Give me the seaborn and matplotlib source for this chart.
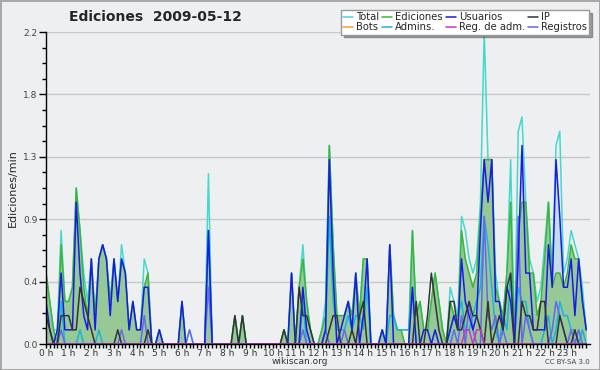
import numpy as np
import matplotlib
matplotlib.use("Agg")
import matplotlib.pyplot as plt
import seaborn as sbn

# tranches de 10 minutes sur la journee (144 points)
heures = np.arange(144) / 6
etiquettes_x = [f"{h} h" for h in range(24)]

# ============== DONNEES (editions / min) ==============
total = [
    0.5, 0.3, 0.1, 0.1, 0.8, 0.3,
    0.3, 0.4, 1.1, 0.8, 0.5, 0.3,
    0.6, 0.2, 0.6, 0.7, 0.6, 0.3,
    0.6, 0.3, 0.7, 0.5, 0.1, 0.3,
    0.1, 0.1, 0.6, 0.5, 0.0, 0.0,
    0.1, 0.0, 0.0, 0.0, 0.0, 0.0,
    0.3, 0.0, 0.1, 0.0, 0.0, 0.0,
    0.0, 1.2, 0.0, 0.0, 0.0, 0.0,
    0.0, 0.0, 0.2, 0.0, 0.2, 0.0,
    0.0, 0.0, 0.0, 0.0, 0.0, 0.0,
    0.0, 0.0, 0.0, 0.1, 0.0, 0.5,
    0.0, 0.4, 0.7, 0.3, 0.1, 0.0,
    0.0, 0.1, 0.3, 1.4, 0.7, 0.2,
    0.2, 0.2, 0.3, 0.2, 0.5, 0.2,
    0.6, 0.6, 0.0, 0.0, 0.0, 0.1,
    0.0, 0.7, 0.2, 0.1, 0.1, 0.1,
    0.1, 0.8, 0.2, 0.3, 0.1, 0.1,
    0.3, 0.5, 0.3, 0.1, 0.0, 0.4,
    0.3, 0.2, 0.9, 0.8, 0.6, 0.5,
    0.6, 1.0, 2.2, 1.3, 1.3, 0.5,
    0.3, 0.2, 0.5, 1.3, 0.0, 1.5,
    1.6, 1.0, 0.6, 0.5, 0.3, 0.4,
    0.7, 1.0, 0.5, 1.4, 1.5, 0.5,
    0.6, 0.8, 0.7, 0.6, 0.4, 0.1,
]
ediciones = [
    0.5, 0.3, 0.1, 0.0, 0.7, 0.3,
    0.3, 0.4, 1.1, 0.8, 0.4, 0.2,
    0.6, 0.2, 0.6, 0.7, 0.6, 0.3,
    0.6, 0.3, 0.6, 0.5, 0.1, 0.3,
    0.1, 0.1, 0.4, 0.5, 0.0, 0.0,
    0.1, 0.0, 0.0, 0.0, 0.0, 0.0,
    0.3, 0.0, 0.0, 0.0, 0.0, 0.0,
    0.0, 0.8, 0.0, 0.0, 0.0, 0.0,
    0.0, 0.0, 0.2, 0.0, 0.2, 0.0,
    0.0, 0.0, 0.0, 0.0, 0.0, 0.0,
    0.0, 0.0, 0.0, 0.1, 0.0, 0.5,
    0.0, 0.4, 0.6, 0.3, 0.1, 0.0,
    0.0, 0.1, 0.2, 1.4, 0.7, 0.2,
    0.2, 0.2, 0.3, 0.2, 0.5, 0.2,
    0.6, 0.6, 0.0, 0.0, 0.0, 0.1,
    0.0, 0.7, 0.2, 0.1, 0.1, 0.0,
    0.0, 0.8, 0.2, 0.3, 0.1, 0.1,
    0.3, 0.5, 0.3, 0.1, 0.0, 0.3,
    0.2, 0.1, 0.8, 0.6, 0.5, 0.4,
    0.5, 0.9, 1.3, 1.3, 1.3, 0.4,
    0.3, 0.2, 0.5, 1.0, 0.0, 0.8,
    1.0, 1.0, 0.5, 0.5, 0.2, 0.3,
    0.6, 1.0, 0.4, 0.5, 0.5, 0.4,
    0.5, 0.7, 0.6, 0.6, 0.3, 0.1,
]
usuarios = [
    0.3, 0.1, 0.0, 0.1, 0.5, 0.1,
    0.1, 0.1, 1.0, 0.5, 0.2, 0.1,
    0.6, 0.1, 0.6, 0.7, 0.6, 0.2,
    0.6, 0.3, 0.6, 0.5, 0.1, 0.3,
    0.1, 0.1, 0.4, 0.4, 0.0, 0.0,
    0.1, 0.0, 0.0, 0.0, 0.0, 0.0,
    0.3, 0.0, 0.0, 0.0, 0.0, 0.0,
    0.0, 0.8, 0.0, 0.0, 0.0, 0.0,
    0.0, 0.0, 0.0, 0.0, 0.0, 0.0,
    0.0, 0.0, 0.0, 0.0, 0.0, 0.0,
    0.0, 0.0, 0.0, 0.0, 0.0, 0.5,
    0.0, 0.0, 0.4, 0.1, 0.0, 0.0,
    0.0, 0.0, 0.1, 1.3, 0.5, 0.0,
    0.1, 0.2, 0.3, 0.1, 0.5, 0.0,
    0.2, 0.6, 0.0, 0.0, 0.0, 0.1,
    0.0, 0.7, 0.0, 0.0, 0.0, 0.0,
    0.0, 0.4, 0.0, 0.0, 0.1, 0.1,
    0.0, 0.1, 0.0, 0.0, 0.0, 0.1,
    0.2, 0.1, 0.6, 0.3, 0.2, 0.1,
    0.2, 0.8, 1.3, 1.0, 1.3, 0.3,
    0.3, 0.1, 0.4, 0.3, 0.0, 0.6,
    1.4, 0.5, 0.5, 0.1, 0.1, 0.1,
    0.1, 0.7, 0.4, 1.3, 0.9, 0.4,
    0.4, 0.6, 0.2, 0.6, 0.3, 0.1,
]
ip = [
    0.2, 0.1, 0.0, 0.0, 0.2, 0.2,
    0.2, 0.1, 0.1, 0.4, 0.3, 0.2,
    0.1, 0.0, 0.0, 0.0, 0.0, 0.0,
    0.0, 0.1, 0.0, 0.0, 0.0, 0.0,
    0.0, 0.0, 0.0, 0.1, 0.0, 0.0,
    0.0, 0.0, 0.0, 0.0, 0.0, 0.0,
    0.0, 0.0, 0.0, 0.0, 0.0, 0.0,
    0.0, 0.0, 0.0, 0.0, 0.0, 0.0,
    0.0, 0.0, 0.2, 0.0, 0.2, 0.0,
    0.0, 0.0, 0.0, 0.0, 0.0, 0.0,
    0.0, 0.0, 0.0, 0.1, 0.0, 0.0,
    0.0, 0.4, 0.2, 0.2, 0.1, 0.0,
    0.0, 0.0, 0.0, 0.1, 0.2, 0.2,
    0.0, 0.0, 0.0, 0.1, 0.0, 0.2,
    0.3, 0.0, 0.0, 0.0, 0.0, 0.0,
    0.0, 0.0, 0.0, 0.0, 0.0, 0.0,
    0.0, 0.0, 0.3, 0.0, 0.0, 0.2,
    0.5, 0.3, 0.1, 0.0, 0.0, 0.3,
    0.3, 0.1, 0.1, 0.2, 0.3, 0.2,
    0.2, 0.1, 0.0, 0.3, 0.0, 0.1,
    0.2, 0.1, 0.4, 0.5, 0.0, 0.0,
    0.3, 0.2, 0.2, 0.1, 0.1, 0.3,
    0.3, 0.0, 0.0, 0.0, 0.2, 0.1,
    0.0, 0.0, 0.1, 0.0, 0.0, 0.0,
]
admins = [
    0.0, 0.0, 0.0, 0.0, 0.3, 0.0,
    0.0, 0.0, 0.0, 0.1, 0.0, 0.0,
    0.0, 0.0, 0.1, 0.0, 0.0, 0.0,
    0.0, 0.0, 0.0, 0.0, 0.0, 0.0,
    0.0, 0.0, 0.0, 0.0, 0.0, 0.0,
    0.0, 0.0, 0.0, 0.0, 0.0, 0.0,
    0.0, 0.0, 0.0, 0.0, 0.0, 0.0,
    0.0, 0.8, 0.0, 0.0, 0.0, 0.0,
    0.0, 0.0, 0.0, 0.0, 0.0, 0.0,
    0.0, 0.0, 0.0, 0.0, 0.0, 0.0,
    0.0, 0.0, 0.0, 0.0, 0.0, 0.0,
    0.0, 0.0, 0.3, 0.0, 0.0, 0.0,
    0.0, 0.0, 0.1, 0.9, 0.3, 0.1,
    0.1, 0.1, 0.2, 0.1, 0.2, 0.2,
    0.1, 0.4, 0.0, 0.0, 0.0, 0.0,
    0.0, 0.2, 0.2, 0.1, 0.1, 0.1,
    0.1, 0.4, 0.0, 0.0, 0.0, 0.0,
    0.0, 0.0, 0.0, 0.0, 0.0, 0.1,
    0.2, 0.2, 0.3, 0.1, 0.1, 0.2,
    0.3, 0.4, 0.9, 0.7, 0.4, 0.1,
    0.0, 0.2, 0.1, 0.5, 0.0, 0.4,
    0.3, 0.3, 0.1, 0.0, 0.0, 0.0,
    0.1, 0.2, 0.0, 0.1, 0.3, 0.2,
    0.2, 0.1, 0.1, 0.0, 0.1, 0.0,
]
registros = [
    0.0, 0.0, 0.0, 0.0, 0.1, 0.0,
    0.0, 0.0, 0.0, 0.0, 0.0, 0.0,
    0.0, 0.0, 0.0, 0.0, 0.0, 0.0,
    0.0, 0.0, 0.1, 0.0, 0.0, 0.0,
    0.0, 0.0, 0.2, 0.0, 0.0, 0.0,
    0.0, 0.0, 0.0, 0.0, 0.0, 0.0,
    0.0, 0.0, 0.1, 0.0, 0.0, 0.0,
    0.0, 0.4, 0.0, 0.0, 0.0, 0.0,
    0.0, 0.0, 0.0, 0.0, 0.0, 0.0,
    0.0, 0.0, 0.0, 0.0, 0.0, 0.0,
    0.0, 0.0, 0.0, 0.0, 0.0, 0.0,
    0.0, 0.0, 0.1, 0.0, 0.0, 0.0,
    0.0, 0.0, 0.1, 0.0, 0.0, 0.0,
    0.0, 0.1, 0.0, 0.0, 0.0, 0.0,
    0.0, 0.0, 0.0, 0.0, 0.0, 0.0,
    0.0, 0.0, 0.0, 0.0, 0.0, 0.0,
    0.0, 0.0, 0.0, 0.0, 0.0, 0.0,
    0.0, 0.0, 0.0, 0.0, 0.0, 0.0,
    0.1, 0.0, 0.2, 0.0, 0.3, 0.1,
    0.0, 0.0, 0.9, 0.2, 0.1, 0.2,
    0.0, 0.1, 0.0, 0.0, 0.0, 0.9,
    0.0, 0.2, 0.1, 0.0, 0.0, 0.0,
    0.0, 0.0, 0.1, 0.3, 0.2, 0.1,
    0.0, 0.1, 0.0, 0.1, 0.0, 0.0,
]
reg_adm = [0.0] * 111 + [0.1, 0.1, 0.0, 0.1, 0.1] + [0.0] * 28
bots = [0.0] * 144  # aucun bot ce jour-la

# Style general
FOND = "#eeeff0"
sbn.set_theme(style="white", rc={
    "axes.facecolor": FOND,
    "figure.facecolor": FOND,
    "axes.edgecolor": "black",
    "axes.linewidth": 1,
})
plt.rcParams["font.family"] = ["DejaVu Sans"]

fig = plt.figure(figsize=(6, 3.7), dpi=100, facecolor=FOND,
                 edgecolor="#a8a8a8", linewidth=2)
ax = fig.add_axes([46 / 600, 26 / 370, 544 / 600, 312 / 370])

# surfaces
ax.fill_between(heures, usuarios, color="#c6dde9", lw=0, zorder=1)
ax.fill_between(heures, ediciones, color="#97c997", lw=0, zorder=1.1)

# courbes
series = [
    ("Bots", bots, "#ff9933"),
    ("Total", total, "#45d8cc"),
    ("Ediciones", ediciones, "#3cb53c"),
    ("Admins.", admins, "#1ab4d8"),
    ("Registros", registros, "#6666f0"),
    ("Usuarios", usuarios, "#1a1ae8"),
    ("IP", ip, "#333333"),
    ("Reg. de adm.", reg_adm, "#cc33cc"),
]
for nom, valeurs, couleur in series:
    sbn.lineplot(x=heures, y=valeurs, ax=ax, color=couleur, lw=1.1,
                 label=nom, legend=False, zorder=2)

ax.set_xlim(0, 24)
ax.set_ylim(0, 2.2)
ax.set_yticks([0, 0.44, 0.88, 1.32, 1.76, 2.2])
ax.set_yticklabels(["0.0", "0.4", "0.9", "1.3", "1.8", "2.2"])
ax.set_yticks(np.arange(0, 2.21, 0.11), minor=True)
ax.set_xticks(range(24))
ax.set_xticklabels(etiquettes_x)
ax.set_xticks(heures, minor=True)
ax.tick_params(axis="y", which="major", length=5, width=1, color="black",
               labelsize=6.5, labelcolor="#444444", pad=1, left=True)
ax.tick_params(axis="y", which="minor", length=3, width=1, color="black", left=True)
ax.tick_params(axis="x", which="both", length=3, width=1, color="black",
               labelsize=6.5, labelcolor="#333333", pad=0.5, bottom=True)
ax.yaxis.grid(True, which="major", color="#c8c8c8", lw=1)
ax.set_axisbelow(True)
for cote in ["top", "right"]:
    ax.spines[cote].set_visible(False)
ax.spines["left"].set_zorder(5)
ax.spines["bottom"].set_zorder(5)
ax.set_xlabel("")
ax.set_ylabel("")
fig.text(13 / 600, 1 - 188 / 370, "Ediciones/min", fontsize=8, rotation=90,
         ha="center", va="center")

# legende (ordre colonne par colonne)
poignees, noms = ax.get_legend_handles_labels()
ordre = ["Total", "Bots", "Ediciones", "Admins.", "Usuarios", "Reg. de adm.", "IP", "Registros"]
dico = dict(zip(noms, poignees))
leg = fig.legend([dico[n] for n in ordre], ordre, loc="upper right",
                 bbox_to_anchor=(589 / 600, 1 - 10 / 370), ncol=4, fontsize=7.2,
                 frameon=True, fancybox=False, shadow=True, framealpha=1,
                 edgecolor="#999999", facecolor="white", handlelength=1.0,
                 handletextpad=0.3, columnspacing=0.3, labelspacing=0.05,
                 borderpad=0.2, borderaxespad=0)
leg.get_frame().set_linewidth(1)

fig.text(155 / 600, 1 - 17 / 370, "Ediciones  2009-05-12", fontsize=10,
         fontweight="bold", ha="center", va="center")
fig.text(0.5, 1 - 362 / 370, "wikiscan.org", fontsize=6.5, color="#333333",
         ha="center", va="center")
fig.text(590 / 600, 1 - 362 / 370, "CC BY-SA 3.0", fontsize=5, color="#444444",
         ha="right", va="center")

fig.savefig("out.png", dpi=100, facecolor=FOND, edgecolor=fig.get_edgecolor())
